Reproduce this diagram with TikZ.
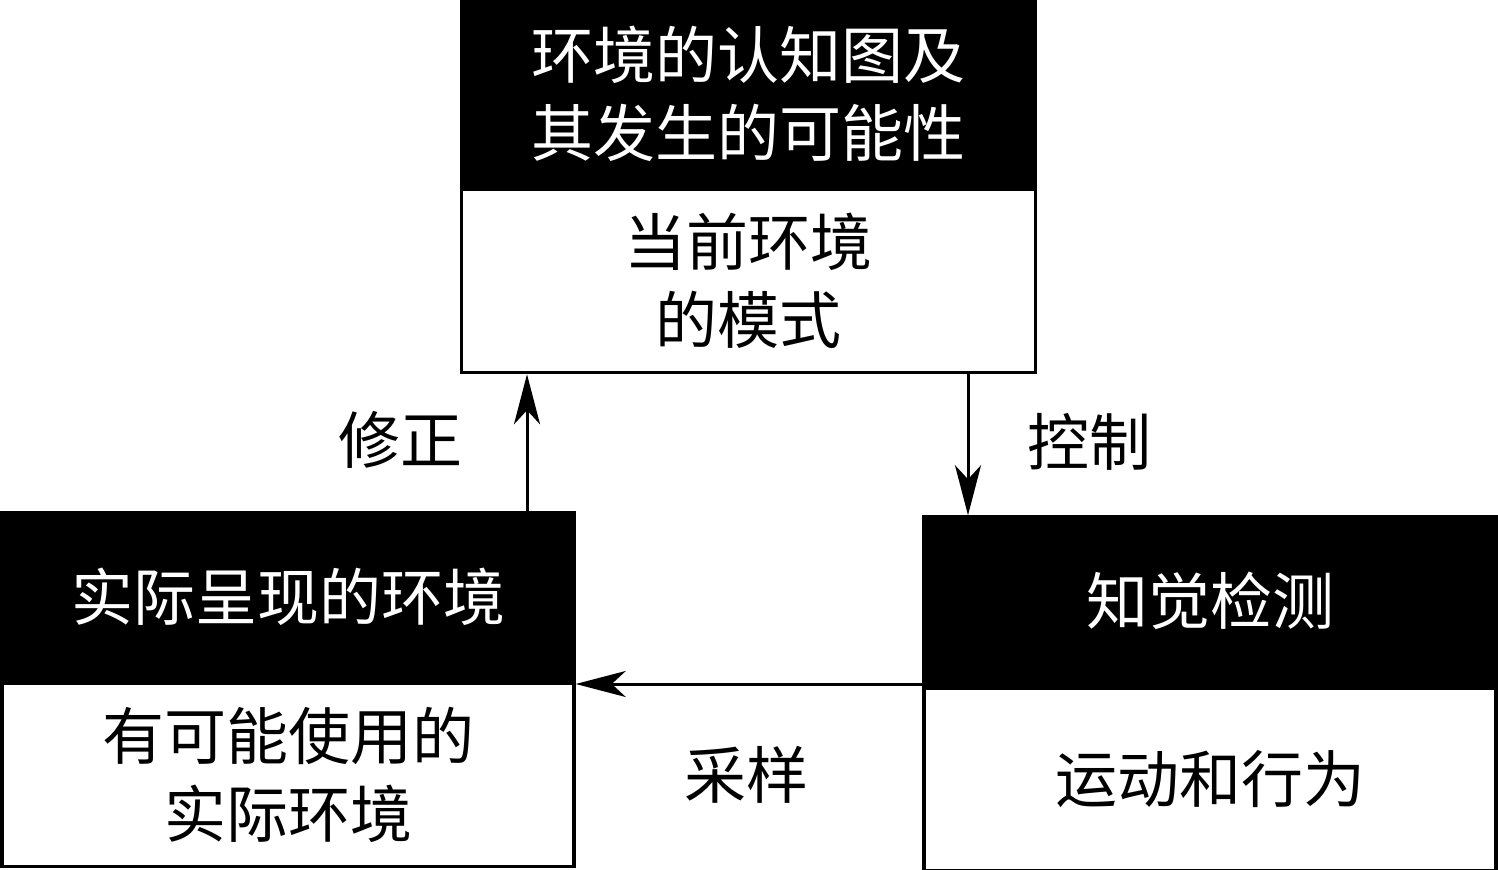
\documentclass[tikz,border=0pt]{standalone}
\usepackage{fontspec}
\setmainfont{Noto Sans CJK SC}
\usetikzlibrary{arrows.meta}
\begin{document}
\begin{tikzpicture}[x=0.5pt,y=-0.5pt,
  blk/.style={draw=black,fill=black,text=white,line width=1.75pt,inner sep=0pt,align=center,font=\fontsize{31}{39}\selectfont},
  wht/.style={draw=black,fill=white,text=black,line width=1.75pt,inner sep=0pt,align=center,font=\fontsize{31}{39}\selectfont},
  lbl/.style={font=\fontsize{31}{39}\selectfont,inner sep=0pt},
  arr/.style={line width=1.5pt,-{Stealth[length=25pt,width=13pt,inset=7pt]}}]
\useasboundingbox (0,0) rectangle (1498,870);
% top box
\node[blk,minimum width=287pt,minimum height=92.5pt] (tb) at (748.5,93.5) {环境的认知图及\\其发生的可能性};
\node[wht,minimum width=287pt,minimum height=91.5pt,anchor=north] (tw) at (tb.south) {当前环境\\的模式};
% left box
\node[blk,minimum width=286pt,minimum height=83.5pt] (lb) at (288,596.5) {实际呈现的环境};
\node[wht,minimum width=286pt,minimum height=91.5pt,anchor=north] (lw) at (lb.south) {有可能使用的\\实际环境};
% right box
\node[blk,minimum width=286pt,minimum height=84pt] (rb) at (1210,601) {知觉检测};
\node[wht,minimum width=286pt,minimum height=91pt,anchor=north] (rw) at (rb.south) {运动和行为};
% connectors
\coordinate (a1) at (527,0);
\coordinate (a2) at (968,0);
\coordinate (a3) at (0,684);
\draw[arr] (lb.north -| a1) -- (tw.south -| a1);
\draw[arr] (tw.south -| a2) -- (rb.north -| a2);
\draw[arr] (rb.west |- a3) -- (lw.east |- a3);
% labels
\node[lbl] (l1) at (400,440) {修正};
\node[lbl] (l2) at (1089,442) {控制};
\node[lbl] (l3) at (746,775) {采样};
\end{tikzpicture}
\end{document}
